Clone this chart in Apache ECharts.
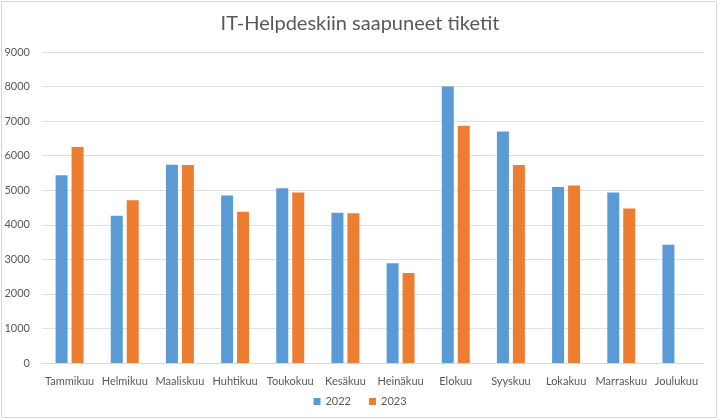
<!DOCTYPE html>
<html><head><meta charset="utf-8">
<script src="https://cdn.jsdelivr.net/npm/echarts@6/dist/echarts.min.js"></script>
<style>html,body{margin:0;padding:0;background:#fff}#c{width:720px;height:420px}</style>
</head><body><div id="c"></div>
<script>
const months = ['Tammikuu','Helmikuu','Maaliskuu','Huhtikuu','Toukokuu','Kesäkuu','Heinäkuu','Elokuu','Syyskuu','Lokakuu','Marraskuu','Joulukuu'];
const data2022 = [5430, 4260, 5740, 4850, 5060, 4345, 2885, 8005, 6700, 5095, 4935, 3420];
const data2023 = [6250, 4710, 5730, 4375, 4935, 4335, 2605, 6865, 5730, 5135, 4470, null];
const yTicks = {min: 0, max: 9000, interval: 1000};
const FONT = 'Lato, "Open Sans", sans-serif';
const chart = echarts.init(document.getElementById('c'), null, {renderer: 'canvas'});
chart.setOption({
  animation: false,
  backgroundColor: '#fff',
  textStyle: {fontFamily: FONT},
  title: {text: 'IT-Helpdeskiin saapuneet tiketit', left: 'center', top: 9,
    textStyle: {fontFamily: FONT, fontSize: 20, fontWeight: 'normal', color: '#595959'}},
  graphic: [{type: 'rect', shape: {x: 1.5, y: 1.5, width: 715, height: 416}, style: {fill: null, stroke: '#d9d9d9', lineWidth: 1}, silent: true}],
  legend: {bottom: 8, left: 'center', itemWidth: 7, itemHeight: 7, itemGap: 18, icon: 'rect',
    textStyle: {fontFamily: FONT, fontSize: 11, color: '#595959'}},
  grid: {left: 42, right: 16, top: 52, bottom: 57},
  xAxis: {type: 'category', data: months,
    axisLine: {lineStyle: {color: '#d9d9d9'}}, axisTick: {show: false},
    axisLabel: {color: '#595959', fontSize: 11, fontFamily: FONT, margin: 13, interval: 0}},
  yAxis: {type: 'value', min: yTicks.min, max: yTicks.max, interval: yTicks.interval,
    axisLine: {show: false}, axisTick: {show: false},
    splitLine: {lineStyle: {color: '#e0e0e0', width: 1}},
    axisLabel: {color: '#595959', fontSize: 11, fontFamily: FONT, margin: 12, formatter: v => String(v)}},
  series: [
    {name: '2022', type: 'bar', data: data2022, barWidth: 12, barGap: '33%', itemStyle: {color: '#5B9BD5'}},
    {name: '2023', type: 'bar', data: data2023, barWidth: 12, itemStyle: {color: '#ED7D31'}}
  ]
});
</script></body></html>
